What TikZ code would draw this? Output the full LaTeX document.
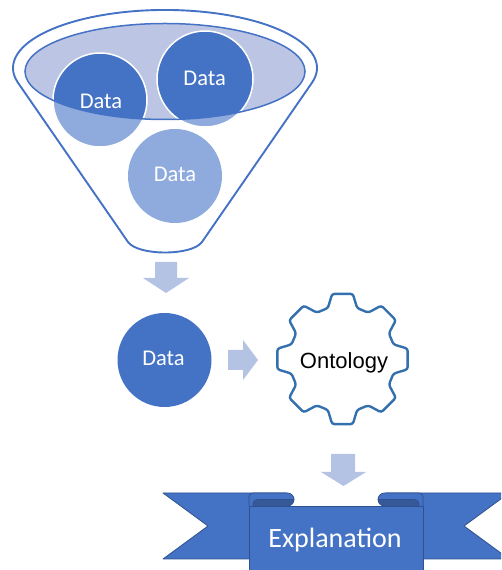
\documentclass[tikz,border=0pt]{standalone}
\usepackage{fontspec}
\setmainfont{Carlito}
\newfontfamily\arialf{Liberation Sans}
\definecolor{accent}{HTML}{4472C4}
\definecolor{accentdark}{HTML}{2F528F}
\definecolor{lightc}{HTML}{8FAADC}
\definecolor{ellfill}{HTML}{BCC5E3}
\definecolor{arrowc}{HTML}{B4C2E3}
\definecolor{gearc}{HTML}{3470AE}
\definecolor{rolldark}{HTML}{37599A}
\begin{document}
\begin{tikzpicture}[x=1pt,y=1pt,
  funnelline/.style={draw=accent, line width=1.9pt, line join=round},
  datatext/.style={text=white, font=\fontsize{22.5}{26}\selectfont, anchor=base, inner sep=0pt},
  darkcirc/.style={fill=accent, draw=white, line width=1.5pt},
  lightcirc/.style={fill=lightc, draw=white, line width=1.5pt},
  blockarrow/.style={fill=arrowc},
  gearline/.style={draw=gearc, line width=2.4pt, fill=white, rounded corners=2.5pt},
  ribbon/.style={fill=accent, draw=accentdark, line width=0.8pt, line join=round},
  ribbonfill/.style={fill=accent},
  ribbonedge/.style={draw=accentdark, line width=0.8pt, line join=round}]
\useasboundingbox (0,0) rectangle (501,570);
\clip (0,0) rectangle (501,570);

% funnel outline
\draw[funnelline] (312.2,487.6) arc[start angle=-14.4, end angle=194.4, x radius=152, y radius=58]
  -- (128,328) .. controls (138,314) and (192,314) .. (202,328) -- cycle;

% circles, light parts
\fill[lightc] (175,394) circle[radius=47];
\filldraw[lightcirc] (100,470) circle[radius=47];
\filldraw[lightcirc] (205,491) circle[radius=48];

% inner ellipse
\fill[ellfill] (165,498.5) ellipse[x radius=140, y radius=48];
\begin{scope}
  \clip (165,498.5) ellipse[x radius=140, y radius=48];
  \filldraw[darkcirc] (100,470) circle[radius=47];
  \filldraw[darkcirc] (205,491) circle[radius=48];
\end{scope}
\draw[accent, line width=1.5pt] (165,498.5) ellipse[x radius=140, y radius=48];

\node[datatext] (d1) at (101,461.7) {Data};
\node[datatext] (d2) at (204.7,484.3) {Data};
\node[datatext] (d3) at (175,388.3) {Data};

% arrow down 1
\fill[blockarrow] (155,308) -- (177,308) -- (177,292) -- (189,292) -- (166,277) -- (143,292) -- (155,292) -- cycle;

% data circle
\fill[accent] (164.5,210) circle[radius=47];
\node[datatext] (d4) at (163.5,204) {Data};

% arrow right
\fill[blockarrow] (228,220) -- (243,220) -- (243,230) -- (258,210) -- (243,190) -- (243,200) -- (228,200) -- cycle;

% gear
\begin{scope}[shift={(342.5,211)}]
  \draw[gearline] (67.5:52.66)
    \foreach \k in {0,...,7}{
      -- ({90+45*\k-16}:53) -- ({90+45*\k-9}:66) -- ({90+45*\k+9}:66) -- ({90+45*\k+16}:53)
    } -- cycle;
\end{scope}
\node[anchor=base, inner sep=0pt, font=\arialf\fontsize{22}{26}\selectfont] (onto) at (344,201.7) {Ontology};

% arrow down 2
\fill[blockarrow] (331,116) -- (355,116) -- (355,98) -- (366,98) -- (343.5,84) -- (321,98) -- (331,98) -- cycle;

% ribbon tails
\filldraw[ribbon] (163,77) -- (286,77) -- (286,11) -- (163,11) -- (208,44) -- cycle;
\filldraw[ribbon] (386,77) -- (509,77) -- (464,44) -- (509,11) -- (386,11) -- cycle;
% left roll
\fill[ribbonfill] (249,64) -- (249,73) arc[start angle=180, end angle=90, radius=4] -- (287.5,77) arc[start angle=90, end angle=-90, radius=6.5] -- cycle;
\fill[rolldark] (253,64) .. controls (252.5,68) and (254,70.5) .. (258,70.5) -- (294,70.5) .. controls (293.5,67) and (291,64) .. (287.5,64) -- cycle;
\draw[ribbonedge] (249,64) -- (249,73) arc[start angle=180, end angle=90, radius=4] -- (287.5,77) arc[start angle=90, end angle=-90, radius=6.5];
\draw[accentdark, line width=0.6pt] (253,64) .. controls (252.5,68) and (254,70.5) .. (258,70.5) -- (294,70.5);
% right roll
\fill[ribbonfill] (423,64) -- (423,73) arc[start angle=0, end angle=90, radius=4] -- (384.5,77) arc[start angle=90, end angle=270, radius=6.5] -- cycle;
\fill[rolldark] (419,64) .. controls (419.5,68) and (418,70.5) .. (414,70.5) -- (378,70.5) .. controls (378.5,67) and (381,64) .. (384.5,64) -- cycle;
\draw[ribbonedge] (423,64) -- (423,73) arc[start angle=0, end angle=90, radius=4] -- (384.5,77) arc[start angle=90, end angle=270, radius=6.5];
\draw[accentdark, line width=0.6pt] (419,64) .. controls (419.5,68) and (418,70.5) .. (414,70.5) -- (378,70.5);
% front panel
\filldraw[ribbon] (249,-5) rectangle (423,64);
\node[anchor=base, inner sep=0pt, text=white, font=\fontsize{28}{32}\selectfont] (expl) at (335,22) {Explanation};
\end{tikzpicture}
\end{document}
